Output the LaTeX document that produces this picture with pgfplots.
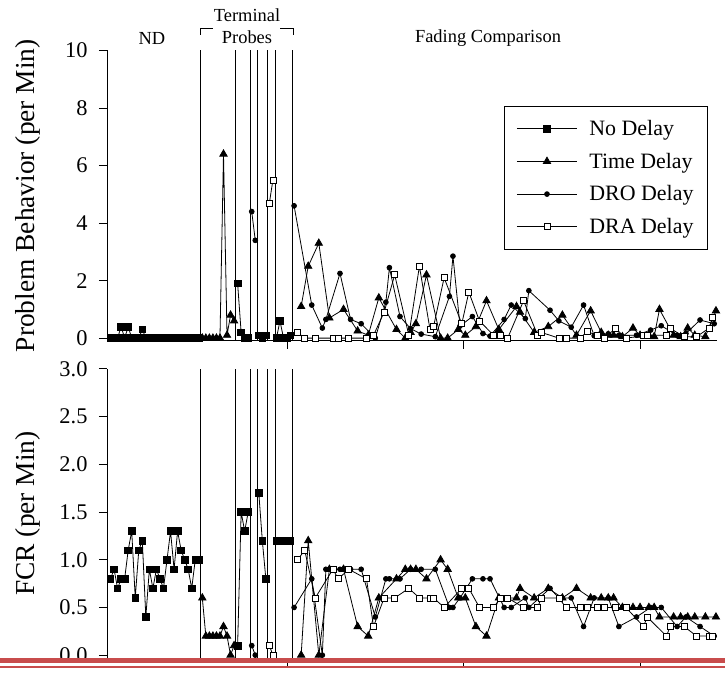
\documentclass[border=0pt]{standalone}
\usepackage{fontspec}
\setmainfont{Liberation Serif}
\usepackage{pgfplots}
\pgfplotsset{compat=1.18}
\definecolor{redline}{RGB}{200,76,76}
\pgfplotsset{
  common/.style={
    scale only axis, width=610bp,
    xmin=-1, xmax=171.8,
    axis x line=bottom, axis y line=left,
    axis line style={line width=1bp, -},
    xtick={50,100,150}, xticklabels={},
    tick align=outside, major tick length=8bp,
    tick style={line width=1bp, black},
    /pgf/number format/assume math mode=true,
    ticklabel style={font=\fontsize{22.5}{25}\selectfont},
    yticklabel style={xshift=-8bp},
  },
  nd/.style={black, line width=0.8bp, mark=square*, mark size=3.3bp, mark options={solid, fill=black}},
  td/.style={black, line width=0.8bp, mark=triangle*, mark size=4.2bp, mark options={solid, fill=black}},
  dro/.style={black, line width=0.8bp, mark=*, mark size=2.4bp, mark options={solid, fill=black}},
  dra/.style={black, line width=0.8bp, mark=square*, mark size=3bp, mark options={solid, fill=white, line width=0.7bp}},
}
\begin{document}
\begin{tikzpicture}
\useasboundingbox (0,0) rectangle (725bp,673bp);
% ---------------- top panel ----------------
\begin{axis}[common,
  at={(107bp,332bp)}, anchor=south west, height=290.5bp,
  ymin=-0.1, ymax=10, ytick={0,2,4,6,8,10},
  ylabel={Problem Behavior (per Min)},
  ylabel style={font=\fontsize{27.5}{30}\selectfont, at={(axis description cs:-0.1295,0.5)}, anchor=center},
  legend style={at={(0.985,0.809)}, anchor=north east, draw=black, line width=0.8bp,
    font=\fontsize{22}{25}\selectfont, cells={anchor=west}, row sep=12bp,
    inner xsep=12bp, inner ysep=12bp},
  legend image code/.code={\draw[mark repeat=2,mark phase=2,#1] plot coordinates {(0bp,0bp) (30bp,0bp) (60bp,0bp)}; \path (70bp,0bp);},
]
\addlegendimage{nd}\addlegendentry{No Delay}
\addlegendimage{td}\addlegendentry{Time Delay}
\addlegendimage{dro}\addlegendentry{DRO Delay}
\addlegendimage{dra}\addlegendentry{DRA Delay}
\pgfplotsinvokeforeach{25.4,35.5,39.5,41.6,44.5,46.6,51.6}{\draw[line width=0.9bp] (axis cs:#1,-0.1) -- (axis cs:#1,10);}
% ND baseline
\addplot[nd, forget plot] coordinates {(0,0)(1,0)(2,0)(3,0.4)(4,0)(5,0.4)(6,0)(7,0)(8,0)(9,0.3)(10,0)(11,0)(12,0)(13,0)(14,0)(15,0)(16,0)(17,0)(18,0)(19,0)(20,0)(21,0)(22,0)(23,0)(24,0)(25,0)};
% terminal probes
\addplot[td, forget plot] coordinates {(26,0)(27,0)(28,0)(29,0)(30,0)(31,0)(32,6.4)(33,0.1)(34,0.8)(35,0.6)};
\addplot[nd, forget plot] coordinates {(36,1.9)(37,0.2)(38,0)(39,0)};
\addplot[dro, forget plot] coordinates {(40,4.4)(41,3.4)};
\addplot[nd, forget plot] coordinates {(42,0.1)(43,0)(44,0.1)};
\addplot[dra, forget plot] coordinates {(45,4.7)(46,5.5)};
\addplot[nd, forget plot] coordinates {(47,0)(48,0.6)(49,0)(50,0)(51,0.1)};
% fading comparison
\addplot[td, forget plot] coordinates {(54,1.1)(56,2.5)(59,3.3)(62,0.7)(66,1.0)(70,0.25)(73,0.1)(76,1.4)(81,0.3)(83.5,0.0)(85,0.2)(86.5,0.5)(89.5,2.2)(93.5,0)(95.5,0)(98.5,0.3)(100.5,0.1)(103.5,0.4)(106.5,1.3)(110,0.3)(115,1.1)(116,0.9)(120,0.2)(124,0.4)(128,0.8)(132,0.1)(136,0.95)(139,0.2)(141,0.1)(142.5,0.1)(145,0.05)(148,0.35)(150,0.1)(152.5,0.1)(154,0.05)(155.5,1.0)(159.5,0.1)(161.5,0.05)(163.5,0.35)(165.5,0.1)(168.5,0.05)(171.5,0.95)};
\addplot[dro, forget plot] coordinates {(52,4.6)(57,1.15)(60,0.35)(61,0.65)(65,2.25)(68,0.65)(71,0.5)(75,0.0)(78,1.25)(79,2.45)(82,0.75)(85,0.33)(88,0.14)(92,0.05)(96,1.45)(97,2.85)(99,0.42)(102.5,0.75)(105.5,0.16)(107.5,0.07)(111.5,0.65)(113.5,1.15)(117.5,0.68)(118.5,1.65)(124.5,0.97)(127,0.6)(130.5,0.38)(134,1.15)(137,0.08)(141,0.15)(144,0.1)(149,0.1)(153,0.28)(156,0.43)(160.5,0.1)(163,0.16)(167,0.63)(171,0.5)};
\addplot[dra, forget plot] coordinates {(53,0.2)(55,0)(58,0)(63,0)(64.5,0)(67.5,0)(72.5,0)(74.5,0.1)(77.5,0.9)(80.5,2.2)(84.5,0.1)(87.5,2.5)(90.5,0.3)(91.5,0.4)(94.5,2.1)(99.5,0.5)(101.5,1.6)(104.5,0.6)(108.5,0.1)(110.5,0.1)(112.5,0)(117,1.3)(121,0.1)(122,0.2)(127,0)(129,0)(133,0)(135,0.22)(138,0.1)(140,0)(143,0.34)(146,0)(151,0.08)(152,0.1)(157.5,0.1)(158.5,0.34)(162.5,0.05)(166,0.05)(169.5,0.34)(170.5,0.72)};
\end{axis}
% ---------------- bottom panel ----------------
\begin{axis}[common,
  at={(107bp,15bp)}, anchor=south west, height=289bp,
  ymin=-0.03, ymax=3, ytick={0,0.5,1,1.5,2,2.5,3},
  yticklabel style={/pgf/number format/.cd, fixed, fixed zerofill, precision=1},
  ylabel={FCR (per Min)},
  ylabel style={font=\fontsize{27.5}{30}\selectfont, at={(axis description cs:-0.1295,0.5)}, anchor=center},
]
\pgfplotsinvokeforeach{25.4,35.5,39.5,41.6,44.5,46.6,51.6}{\draw[line width=0.9bp] (axis cs:#1,-0.03) -- (axis cs:#1,3);}
\addplot[nd] coordinates {(0,0.8)(1,0.9)(2,0.7)(3,0.8)(4,0.8)(5,1.1)(6,1.3)(7,0.6)(8,1.1)(9,1.2)(10,0.4)(11,0.9)(12,0.7)(13,0.9)(14,0.8)(15,0.7)(16,1.0)(17,1.3)(18,0.9)(19,1.3)(20,1.1)(21,1.0)(22,0.9)(23,0.7)(24,1.0)(25,1.0)};
\addplot[td] coordinates {(26,0.6)(27,0.2)(28,0.2)(29,0.2)(30,0.2)(31,0.2)(32,0.3)(33,0.2)(34,0.0)(35,0.1)};
\addplot[nd] coordinates {(36,0.1)(37,1.5)(38,1.3)(39,1.5)};
\addplot[dro] coordinates {(40,0.1)(41,0.0)};
\addplot[nd] coordinates {(42,1.7)(43,1.2)(44,0.8)};
\addplot[dra] coordinates {(45,0.1)(46,0.0)};
\addplot[nd] coordinates {(47,1.2)(48,1.2)(49,1.2)(50,1.2)(51,1.2)};
\addplot[td] coordinates {(54,0.0)(56,1.2)(59,0.0)(62,0.9)(66,0.9)(70,0.3)(73,0.2)(76,0.6)(81,0.8)(83.5,0.9)(85,0.9)(86.5,0.9)(89.5,0.8)(93.5,1.0)(95.5,0.9)(98.5,0.6)(100.5,0.6)(103.5,0.3)(106.5,0.2)(110,0.6)(115,0.6)(116,0.7)(120,0.6)(124,0.7)(128,0.6)(132,0.7)(136,0.6)(139,0.6)(141,0.6)(142.5,0.6)(145,0.5)(148,0.5)(150,0.5)(152.5,0.5)(154,0.5)(155.5,0.4)(159.5,0.4)(161.5,0.4)(163.5,0.4)(165.5,0.4)(168.5,0.4)(171.5,0.4)};
\addplot[dro] coordinates {(52,0.5)(57,0.8)(60,0.0)(61,0.9)(65,0.9)(68,0.9)(71,0.9)(75,0.4)(78,0.8)(79,0.8)(82,0.8)(85,0.9)(88,0.9)(92,0.9)(96,0.5)(97,0.5)(99,0.6)(102.5,0.8)(105.5,0.8)(107.5,0.8)(111.5,0.5)(113.5,0.5)(117.5,0.6)(118.5,0.5)(124.5,0.7)(127,0.6)(130.5,0.6)(134,0.3)(137,0.6)(141,0.6)(144,0.3)(149,0.4)(153,0.5)(156,0.5)(160.5,0.3)(163,0.4)(167,0.3)(171,0.2)};
\addplot[dra] coordinates {(53,1.0)(55,1.1)(58,0.6)(63,0.9)(64.5,0.8)(67.5,0.9)(72.5,0.8)(74.5,0.3)(77.5,0.6)(80.5,0.6)(84.5,0.7)(87.5,0.6)(90.5,0.6)(91.5,0.6)(94.5,0.5)(99.5,0.7)(101.5,0.7)(104.5,0.5)(108.5,0.5)(110.5,0.6)(112.5,0.6)(117,0.5)(121,0.5)(122,0.6)(127,0.6)(129,0.5)(133,0.5)(135,0.5)(138,0.5)(140,0.5)(143,0.5)(146,0.5)(151,0.3)(152,0.4)(157.5,0.2)(158.5,0.3)(162.5,0.3)(166,0.2)(169.5,0.2)(170.5,0.2)};
\end{axis}
% phase labels
\node[font=\fontsize{18.5}{20}\selectfont] at (152bp,635bp) {ND};
\node[font=\fontsize{18.5}{20}\selectfont] at (247bp,658bp) {Terminal};
\node[font=\fontsize{18.5}{20}\selectfont] at (247bp,636bp) {Probes};
\node[font=\fontsize{18.5}{20}\selectfont] at (488bp,635bp) {Fading Comparison};
\draw[line width=0.9bp] (200bp,638bp) -- (200bp,645bp) -- (213bp,645bp);
\draw[line width=0.9bp] (293bp,638bp) -- (293bp,645bp) -- (280bp,645bp);
% red rule at the bottom of the page
\fill[redline] (0,10bp) rectangle (725bp,15bp);
\fill[redline] (0,5bp) rectangle (725bp,7bp);
\end{tikzpicture}
\end{document}
